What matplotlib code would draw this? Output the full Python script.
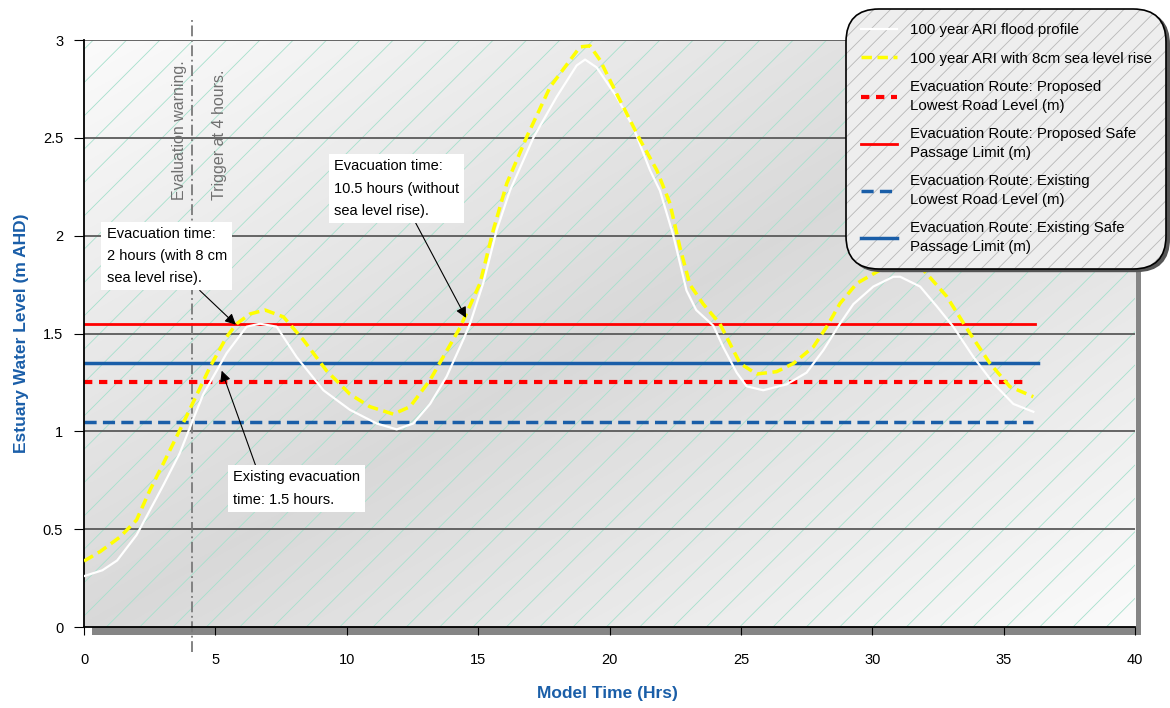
"""Estuary water level vs model time, with evacuation route levels."""
import matplotlib
matplotlib.use("Agg")
import matplotlib.pyplot as plt
import numpy as np
from matplotlib.colors import to_rgba
from matplotlib.patches import Rectangle

plt.rcParams["font.family"] = ["Liberation Sans", "DejaVu Sans"]
plt.rcParams["hatch.linewidth"] = 0.6

# --- data ------------------------------------------------------------------
flood_t = [0, 0.7, 1.26, 2.0, 3.0, 3.65, 4.15, 4.54, 5.43, 6.19, 6.7, 7.33,
           8.09, 9.11, 10.12, 11.14, 11.9, 12.53, 13.17, 13.8, 14.44, 14.69,
           15.2, 15.71, 16.21, 17.1, 17.99, 18.75, 19.07, 19.51, 20.27, 20.9,
           21.54, 21.92, 22.43, 22.93, 23.3, 23.95, 24.33, 24.84, 25.22, 25.85,
           26.74, 27.5, 28.14, 28.77, 29.28, 30.04, 30.8, 31.06, 31.82, 32.45,
           33.08, 33.85, 34.61, 35.37, 36.13]
flood_lvl = [0.26, 0.29, 0.34, 0.47, 0.72, 0.89, 1.06, 1.19, 1.40, 1.535,
             1.55, 1.535, 1.38, 1.21, 1.11, 1.04, 1.01, 1.04, 1.14, 1.28, 1.47,
             1.55, 1.76, 2.03, 2.23, 2.50, 2.71, 2.87, 2.90, 2.86, 2.71, 2.555,
             2.335, 2.23, 2.0, 1.72, 1.62, 1.54, 1.43, 1.30, 1.23, 1.21, 1.24,
             1.30, 1.415, 1.55, 1.65, 1.74, 1.79, 1.79, 1.74, 1.64, 1.535, 1.38,
             1.245, 1.14, 1.10]

slr_t = [0, 0.61, 1.37, 2.0, 2.51, 3.02, 3.65, 4.16, 4.8, 5.43, 5.81, 6.32,
         6.89, 7.59, 8.35, 9.23, 10.12, 10.88, 11.77, 12.41, 13.17, 13.67,
         14.31, 15.07, 15.58, 16.09, 16.85, 17.74, 18.5, 18.88, 19.26, 19.64,
         20.27, 21.16, 21.8, 22.3, 22.68, 23.06, 23.57, 24.2, 24.71, 24.97,
         25.6, 26.36, 27.0, 27.76, 28.27, 28.77, 29.41, 30.29, 31.0, 31.95,
         32.83, 33.72, 34.48, 35.24, 36.13]
slr_lvl = [0.337, 0.385, 0.46, 0.547, 0.70, 0.836, 1.007, 1.15, 1.33, 1.483,
           1.55, 1.60, 1.62, 1.585, 1.467, 1.31, 1.19, 1.126, 1.088, 1.126,
           1.262, 1.38, 1.53, 1.756, 2.03, 2.267, 2.505, 2.76, 2.897, 2.965,
           2.97, 2.897, 2.726, 2.49, 2.335, 2.165, 1.94, 1.75, 1.65, 1.55,
           1.415, 1.347, 1.293, 1.305, 1.347, 1.432, 1.535, 1.653, 1.756,
           1.824, 1.86, 1.824, 1.69, 1.50, 1.347, 1.228, 1.177]

route_labels = ["Evacuation Route: Proposed\nLowest Road Level (m)",
                "Evacuation Route: Proposed Safe\nPassage Limit (m)",
                "Evacuation Route: Existing\nLowest Road Level (m)",
                "Evacuation Route: Existing Safe\nPassage Limit (m)"]
route_levels = [1.25, 1.55, 1.05, 1.35]
route_end_t = [35.9, 36.2, 36.1, 36.3]

trigger_t = 4.1

annot_texts = ["Evacuation time:\n2 hours (with 8 cm\nsea level rise).",
               "Evacuation time:\n10.5 hours (without\nsea level rise).",
               "Existing evacuation\ntime: 1.5 hours."]
annot_points = [(5.78, 1.545), (14.54, 1.58), (5.24, 1.31)]
annot_text_pos = [(0.86, 2.045), (9.52, 2.39), (5.68, 0.80)]
annot_relpos = [(0.73, 0.0), (0.63, 0.0), (0.19, 1.0)]

BLUE = "#1a5ea8"
route_styles = [dict(color="#ff0000", lw=3.0, dashes=(2.0, 1.6)),
                dict(color="#ff0000", lw=2.0),
                dict(color=BLUE, lw=2.5, dashes=(3.5, 1.8)),
                dict(color=BLUE, lw=2.5)]


def main():
    fig = plt.figure(figsize=(11.7, 7.08), dpi=100)
    ax = fig.add_axes([0.0718, 0.1144, 0.8983, 0.8291])

    # Drop shadow of the plot area.
    fig.add_artist(Rectangle((0.0786, 0.1031), 0.897, 0.833,
                             transform=fig.transFigure, facecolor="#858585",
                             edgecolor="none", zorder=-1))

    # Diagonal grey gradient + green hatch background.
    gu, gv = np.meshgrid(np.linspace(0, 1, 400), np.linspace(0, 1, 300))
    shade = 0.85 + (0.985 - 0.85) * np.abs(gu - gv)
    ax.imshow(np.dstack([shade] * 3), extent=[0, 40, 0, 3], origin="lower",
              aspect="auto", zorder=0)
    ax.add_patch(Rectangle((0, 0), 40, 3, facecolor="none",
                           edgecolor="#a6e0cc", hatch="/", lw=0, zorder=0.5))

    for y in np.arange(0.5, 3.01, 0.5):
        ax.axhline(y, color="#5a5a5a", lw=1.3, zorder=1)

    handles = []
    h_flood, = ax.plot(flood_t, flood_lvl, color="white", lw=1.6, zorder=4,
                       label="100 year ARI flood profile")
    h_slr, = ax.plot(slr_t, slr_lvl, color="#ffff00", lw=2.5,
                     dashes=(3.0, 1.6), zorder=5,
                     label="100 year ARI with 8cm sea level rise")
    handles += [h_flood, h_slr]
    for lab, lvl, end, st in zip(route_labels, route_levels, route_end_t,
                                 route_styles):
        h, = ax.plot([0, end], [lvl, lvl], label=lab, zorder=3, **st)
        handles.append(h)

    # Trigger line reaching past the plot area.
    ax.plot([trigger_t, trigger_t], [-0.13, 3.11], color="#7a7a7a", lw=1.3,
            dashes=(6, 2, 1, 2), clip_on=False, zorder=2)
    ax.text(trigger_t - 0.45, 2.18, "Evaluation warning.", rotation=90,
            ha="center", va="bottom", fontsize=11.5, color="#707070")
    ax.text(trigger_t + 1.05, 2.18, "Trigger at 4 hours.", rotation=90,
            ha="center", va="bottom", fontsize=11.5, color="#707070")

    for txt, pt, pos, rp in zip(annot_texts, annot_points, annot_text_pos,
                                annot_relpos):
        ax.annotate(txt, xy=pt, xytext=pos, ha="left", va="top",
                    fontsize=10.5, linespacing=1.75,
                    bbox=dict(boxstyle="square,pad=0.35", facecolor="white",
                              edgecolor="none"),
                    arrowprops=dict(arrowstyle="-|>", color="black", lw=0.8,
                                    mutation_scale=16, relpos=rp,
                                    shrinkA=0, shrinkB=0),
                    zorder=6)

    ax.set_xlim(0, 40)
    ax.set_ylim(0, 3)
    ax.set_xticks(np.arange(0, 41, 5))
    ax.set_yticks([0, 0.5, 1, 1.5, 2, 2.5, 3])
    ax.set_yticklabels(["0", "0.5", "1", "1.5", "2", "2.5", "3"])
    ax.tick_params(axis="x", direction="out", length=6, pad=13, labelsize=10.5)
    ax.tick_params(axis="y", direction="out", length=7, pad=8, labelsize=10.5)
    for s in ("top", "right"):
        ax.spines[s].set_visible(False)
    for s in ("left", "bottom"):
        ax.spines[s].set_linewidth(1.3)
        ax.spines[s].set_zorder(3)

    ax.set_xlabel("Model Time (Hrs)", fontsize=12.5, fontweight="bold",
                  color=BLUE)
    ax.set_ylabel("Estuary Water Level (m AHD)", fontsize=12.5,
                  fontweight="bold", color=BLUE)
    ax.xaxis.set_label_coords(0.498, -0.10)
    ax.yaxis.set_label_coords(-0.052, 0.50)

    leg = ax.legend(handles=handles, loc="upper left",
                    bbox_to_anchor=(0.726, 0.983),
                    bbox_transform=fig.transFigure, borderaxespad=0,
                    fontsize=10.8, handlelength=2.4, handletextpad=0.9,
                    labelspacing=0.95, borderpad=0.75, fancybox=True,
                    framealpha=1, shadow={"color": "#555555", "alpha": 1.0})
    for t in leg.get_texts():
        t.set_linespacing(1.45)
    frame = leg.get_frame()
    frame.set_boxstyle("round,pad=0.2,rounding_size=2.2")
    frame.set_facecolor("#eeeeee")
    frame.set_edgecolor("black")
    frame.set_linewidth(1.2)
    frame.set_hatch("//")
    frame._hatch_color = to_rgba("#b8b8b8")
    leg.set_zorder(10)

    fig.savefig("out.png", dpi=100, facecolor="white")
    plt.close(fig)


if __name__ == "__main__":
    main()
